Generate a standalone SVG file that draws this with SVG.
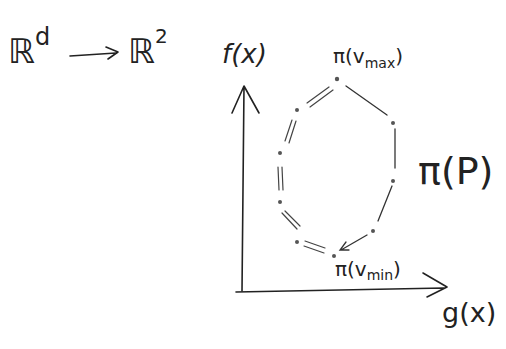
<svg xmlns="http://www.w3.org/2000/svg" width="506" height="349" viewBox="0 0 506 349">
<style>
.t{font-family:"DejaVu Sans","Liberation Sans",sans-serif;fill:#222}
.ax{stroke:#222;stroke-width:1.6;fill:none;stroke-linecap:round;stroke-linejoin:round}
.e{stroke:#333;stroke-width:1.3;fill:none;stroke-linecap:round}
.d{stroke:#444;stroke-width:1.2;fill:none;stroke-linecap:round}
.v{fill:#555}
</style>
<rect width="506" height="349" fill="#fff"/>
<g id="title">
<text class="t" x="8" y="63" font-size="34">ℝ<tspan dy="-18" font-size="24">d</tspan></text>
<path class="ax" d="M70 56 L116 53 M106 47 L118 52 L108 59"/>
<text class="t" x="128" y="63" font-size="34">ℝ<tspan dy="-20" font-size="20">2</tspan></text>
</g>
<g id="axes">
<path class="ax" d="M242 291 L244 86 M232 113 L244 86 L259 113"/>
<path class="ax" d="M236 292 L444 288 M423 273 L447 287 L427 297"/>
<text class="t" x="222" y="63" font-size="26" font-style="italic">f(x)</text>
<text class="t" x="442" y="322" font-size="27">g(x)</text>
</g>
<g id="connectors">
<path class="d" d="M307 103 L329 87 M310 107 L333 90"/>
<path class="d" d="M292 120 L285 141 M296 121 L289 143"/>
<path class="d" d="M278 167 L279 190 M282 167 L283 190"/>
<path class="d" d="M282 213 L297 229 M285 211 L300 226"/>
<path class="d" d="M305 241 L325 248 M304 246 L324 253"/>
<path class="e" d="M346 86 L387 115"/>
<path class="e" d="M395 129 L395 168"/>
<path class="e" d="M392 186 L378 221"/>
<path class="e" d="M367 235 L341 250 M346 242 L340 250 L349 250"/>
</g>
<g id="vertices">
<circle class="v" cx="337" cy="79" r="2.2"/>
<circle class="v" cx="297" cy="110" r="2"/>
<circle class="v" cx="393" cy="123" r="2"/>
<circle class="v" cx="393" cy="181" r="2"/>
<circle class="v" cx="280" cy="153" r="2"/>
<circle class="v" cx="280" cy="202" r="2"/>
<circle class="v" cx="373" cy="231" r="2"/>
<circle class="v" cx="297" cy="242" r="2"/>
<circle class="v" cx="334" cy="256" r="2"/>
</g>
<g id="labels">
<text class="t" x="333" y="63" font-size="20">π(v<tspan dy="5" font-size="14">max</tspan><tspan dy="-5">)</tspan></text>
<text class="t" x="418" y="184" font-size="38">π(P)</text>
<text class="t" x="335" y="276" font-size="20">π(v<tspan dy="4" font-size="14">min</tspan><tspan dy="-4">)</tspan></text>
</g>
</svg>
